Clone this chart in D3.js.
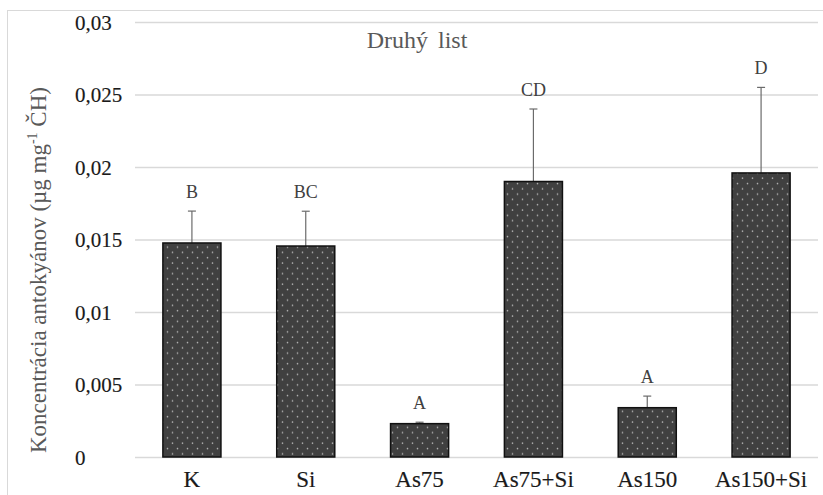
<!DOCTYPE html>
<html>
<head>
<meta charset="utf-8">
<script src="https://cdn.jsdelivr.net/npm/d3@7"></script>
<style>
  body { margin: 0; background: #fff; }
  text { font-family: "Liberation Serif", "Times New Roman", serif; }
</style>
</head>
<body>
<div id="chart"></div>
<script>
// anthocyanin concentration, second leaf

var categories = ["K", "Si", "As75", "As75+Si", "As150", "As150+Si"];
var means = [0.01476, 0.01455, 0.0023, 0.0190, 0.0034, 0.01959];
var errors = [0.0022, 0.0024, 0.0001, 0.0050, 0.0008, 0.0059];
var letters = ["B", "BC", "A", "CD", "A", "D"];
var yTicks = [0, 0.005, 0.01, 0.015, 0.02, 0.025, 0.03];
var yTickLabels = ["0", "0,005", "0,01", "0,015", "0,02", "0,025", "0,03"];

var W = 823, H = 495;
var margin = {top: 22, right: 5, bottom: 38, left: 135},
    width = W - margin.left - margin.right,
    height = H - margin.top - margin.bottom;

var svg = d3.select("#chart").append("svg")
    .attr("width", W)
    .attr("height", H);

// outer frame
svg.append("rect")
    .attr("x", 7.5).attr("y", 10.5)
    .attr("width", 830).attr("height", 500)
    .attr("fill", "none")
    .attr("stroke", "#d9d9d9");

// dotted fill
var pat = svg.append("defs").append("pattern")
    .attr("id", "dots")
    .attr("patternUnits", "userSpaceOnUse")
    .attr("width", 10).attr("height", 10.6);
pat.append("rect").attr("width", 10).attr("height", 10.6).attr("fill", "#404040");
pat.append("circle").attr("cx", 2.5).attr("cy", 2.6).attr("r", 0.8).attr("fill", "#b5b5b5");
pat.append("circle").attr("cx", 7.5).attr("cy", 7.9).attr("r", 0.8).attr("fill", "#b5b5b5");

var g = svg.append("g")
    .attr("transform", "translate(" + margin.left + "," + margin.top + ")");

var x = d3.scaleBand()
    .domain(categories)
    .range([0, width])
    .paddingInner(0.49)
    .paddingOuter(0.245);

var y = d3.scaleLinear()
    .domain([0, 0.03])
    .range([height, 0]);

// gridlines + tick labels
var yAxis = g.append("g")
    .call(d3.axisLeft(y)
        .tickValues(yTicks)
        .tickSize(-width)
        .tickFormat(function(d, i) { return yTickLabels[i]; }));
yAxis.select(".domain").remove();
yAxis.selectAll(".tick line")
    .attr("stroke", "#d9d9d9")
    .attr("stroke-width", 1.3);
yAxis.selectAll(".tick text")
    .attr("x", -60)
    .attr("dy", "0.35em")
    .attr("text-anchor", "start")
    .attr("fill", "#1a1a1a")
    .attr("stroke", "#1a1a1a")
    .attr("stroke-width", 0.15)
    .style("font-size", "21px");

// x labels
var xAxis = g.append("g")
    .attr("transform", "translate(0," + height + ")")
    .call(d3.axisBottom(x).tickSize(0).tickPadding(0));
xAxis.select(".domain").remove();
xAxis.selectAll(".tick text")
    .attr("y", 30)
    .attr("dy", 0)
    .attr("fill", "#1a1a1a")
    .attr("stroke", "#1a1a1a")
    .attr("stroke-width", 0.15)
    .style("font-size", "23px");

// error bars (upper only)
var eb = g.selectAll(".err")
    .data(categories)
    .enter().append("g")
    .attr("class", "err");
eb.append("line")
    .attr("x1", function(d) { return x(d) + x.bandwidth() / 2; })
    .attr("x2", function(d) { return x(d) + x.bandwidth() / 2; })
    .attr("y1", function(d, i) { return y(means[i]); })
    .attr("y2", function(d, i) { return y(means[i] + errors[i]); })
    .attr("stroke", "#6b6b6b")
    .attr("stroke-width", 1.2);
eb.append("line")
    .attr("x1", function(d) { return x(d) + x.bandwidth() / 2 - 4; })
    .attr("x2", function(d) { return x(d) + x.bandwidth() / 2 + 4; })
    .attr("y1", function(d, i) { return y(means[i] + errors[i]); })
    .attr("y2", function(d, i) { return y(means[i] + errors[i]); })
    .attr("stroke", "#6b6b6b")
    .attr("stroke-width", 1.2);

// bars
g.selectAll(".bar")
    .data(categories)
    .enter().append("rect")
    .attr("class", "bar")
    .attr("x", function(d) { return x(d); })
    .attr("width", x.bandwidth())
    .attr("y", function(d, i) { return y(means[i]); })
    .attr("height", function(d, i) { return height - y(means[i]); })
    .attr("fill", "url(#dots)")
    .attr("stroke", "#111")
    .attr("stroke-width", 1.5);

// significance letters
g.selectAll(".letter")
    .data(categories)
    .enter().append("text")
    .attr("class", "letter")
    .attr("x", function(d) { return x(d) + x.bandwidth() / 2; })
    .attr("y", function(d, i) { return y(means[i] + errors[i]) - 13; })
    .attr("text-anchor", "middle")
    .attr("fill", "#404040")
    .style("font-size", "18px")
    .text(function(d, i) { return letters[i]; });

// title
svg.append("text")
    .attr("x", 417)
    .attr("y", 48)
    .attr("text-anchor", "middle")
    .attr("fill", "#595959")
    .style("font-size", "24px")
    .style("word-spacing", "4px")
    .text("Druhý list");

// y axis title
var yt = svg.append("text")
    .attr("transform", "translate(46,270) rotate(-90)")
    .attr("text-anchor", "middle")
    .attr("fill", "#595959")
    .style("font-size", "23px");
yt.append("tspan").text("Koncentrácia antokyánov (µg mg");
yt.append("tspan").attr("dy", -9).style("font-size", "14px").text("-1");
yt.append("tspan").attr("dy", 9).text(" ČH)");
</script>
</body>
</html>
